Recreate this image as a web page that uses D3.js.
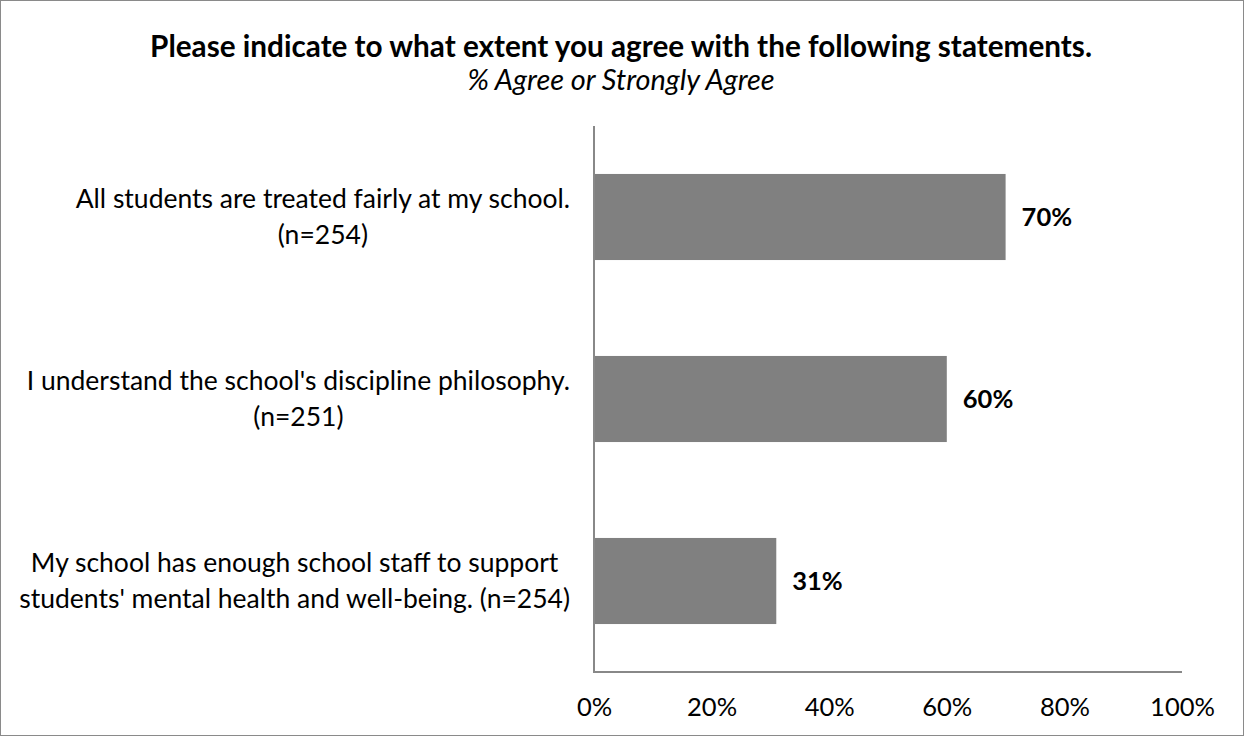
<!DOCTYPE html>
<html>
<head>
<meta charset="utf-8">
<script src="https://cdn.jsdelivr.net/npm/d3@7"></script>
<style>
  html, body { margin: 0; padding: 0; background: #fff; }
  svg { display: block; font-family: Lato, "Open Sans", sans-serif; }
</style>
</head>
<body>
<svg id="chart" width="1244" height="736"></svg>
<script>
// Survey statements (each entry is one label line) and share agreeing
const categories = [
  ["All students are treated fairly at my school.", "(n=254)"],
  ["I understand the school's discipline philosophy.", "(n=251)"],
  ["My school has enough school staff to support", "students' mental health and well-being. (n=254)"]
];
const values = [0.70, 0.60, 0.31];
const tickValues = [0, 0.2, 0.4, 0.6, 0.8, 1.0];

const titleText = "Please indicate to what extent you agree with the following statements.";
const subtitleText = "% Agree or Strongly Agree";

const W = 1244, H = 736;
const margin = { top: 126, right: 62, bottom: 64, left: 594 };

const svg = d3.select("#chart");

// outer frame
svg.append("rect")
  .attr("x", 0.5).attr("y", 0.5)
  .attr("width", W - 1).attr("height", H - 1)
  .attr("fill", "#fff").attr("stroke", "#8a8a8a").attr("stroke-width", 1);

// titles
svg.append("text")
  .attr("x", W / 2 - 1).attr("y", 57)
  .attr("text-anchor", "middle")
  .attr("font-size", 29.7).attr("font-weight", "bold").attr("fill", "#000")
  .text(titleText);
svg.append("text")
  .attr("x", W / 2 - 1).attr("y", 90)
  .attr("text-anchor", "middle")
  .attr("font-size", 28.9).attr("font-style", "italic").attr("fill", "#000")
  .text(subtitleText);

const x = d3.scaleLinear().domain([0, 1]).range([margin.left, W - margin.right]);
const y = d3.scaleBand()
  .domain(d3.range(categories.length))
  .range([margin.top, H - margin.bottom])
  .paddingInner(0.527).paddingOuter(0.2635);

// bars
svg.append("g").selectAll("rect")
  .data(values)
  .join("rect")
  .attr("x", x(0))
  .attr("y", (d, i) => y(i))
  .attr("width", d => x(d) - x(0))
  .attr("height", y.bandwidth())
  .attr("fill", "#808080");

// value labels
svg.append("g").selectAll("text")
  .data(values)
  .join("text")
  .attr("x", d => x(d) + 16)
  .attr("y", (d, i) => y(i) + y.bandwidth() / 2)
  .attr("dy", "0.35em")
  .attr("font-size", 25.5).attr("font-weight", "bold").attr("fill", "#000")
  .text(d => d3.format(".0%")(d));

// category labels: lines centred within a block that ends at the axis
const labelRight = 570, lineGap = 36;
categories.forEach((lines, i) => {
  const g = svg.append("g");
  const cy = y(i) + y.bandwidth() / 2;
  const texts = g.selectAll("text")
    .data(lines)
    .join("text")
    .attr("font-size", 26.5).attr("fill", "#000")
    .attr("text-anchor", "middle")
    .attr("dy", "0.35em")
    .text(d => d);
  const maxW = d3.max(texts.nodes(), n => n.getComputedTextLength());
  const cx = labelRight - maxW / 2;
  texts
    .attr("x", cx)
    .attr("y", (d, j) => cy + (j - (lines.length - 1) / 2) * lineGap);
});

// x axis with labels only, then the two axis lines
const xAxis = svg.append("g")
  .attr("transform", `translate(0,${H - margin.bottom})`)
  .call(d3.axisBottom(x).tickValues(tickValues).tickFormat(d3.format(".0%")).tickSize(0).tickPadding(26));
xAxis.select(".domain").remove();
xAxis.selectAll("text").attr("font-size", 25.5).attr("fill", "#000").attr("font-family", "Lato, sans-serif");

svg.append("line")
  .attr("x1", x(0)).attr("x2", x(1))
  .attr("y1", H - margin.bottom).attr("y2", H - margin.bottom)
  .attr("stroke", "#888").attr("stroke-width", 2);
svg.append("line")
  .attr("x1", x(0)).attr("x2", x(0))
  .attr("y1", margin.top).attr("y2", H - margin.bottom + 1)
  .attr("stroke", "#888").attr("stroke-width", 2);
</script>
</body>
</html>
